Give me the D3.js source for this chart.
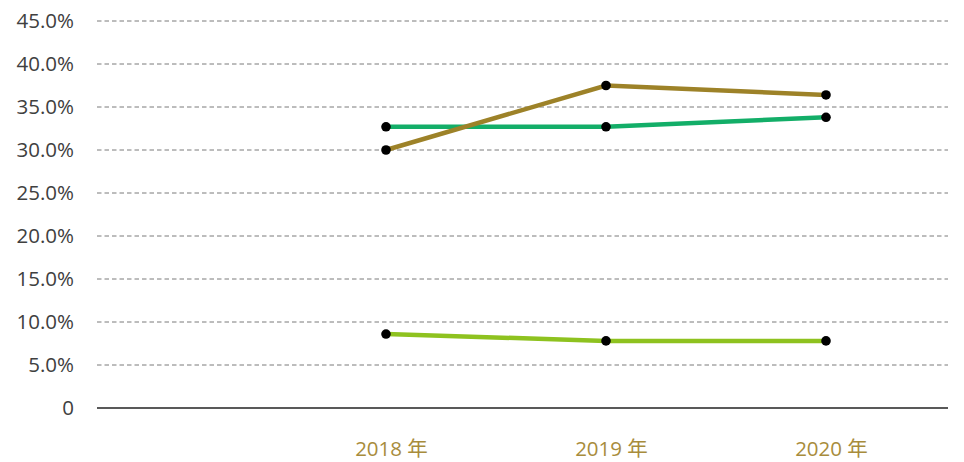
<!DOCTYPE html>
<html><head><meta charset="utf-8">
<script src="https://cdn.jsdelivr.net/npm/d3@7/dist/d3.min.js"></script>
<style>body{margin:0;background:#fff}svg{display:block}</style>
</head><body>
<svg id="c" width="964" height="462"></svg>
<script>
const categories = ["", "2018 年", "2019 年", "2020 年"];
const years = ["2018 年", "2019 年", "2020 年"];
const seriesGold = [30.0, 37.5, 36.4];
const seriesTeal = [32.7, 32.7, 33.8];
const seriesLime = [8.6, 7.8, 7.8];
const yTicks = [0, 5, 10, 15, 20, 25, 30, 35, 40, 45];
const colors = ["#9d8228", "#13ae68", "#8ec21f"];

(function () {
const svg = d3.select("#c");
const mLeft = 97, mRight = 948, mTop = 21, mBottom = 408;
const x = d3.scalePoint().domain(categories).range([166, 826]);
const y = d3.scaleLinear().domain([0, 45]).range([mBottom, mTop]);

// gridlines
svg.append("g").selectAll("line").data(yTicks.filter(d => d > 0)).join("line")
  .attr("x1", mLeft).attr("x2", mRight)
  .attr("y1", d => y(d)).attr("y2", d => y(d))
  .attr("stroke", "#7a7a7a").attr("stroke-width", 1).attr("stroke-dasharray", "4.5,3");

// y axis labels
const yAxis = d3.axisLeft(y).tickValues(yTicks).tickSize(0).tickPadding(0)
  .tickFormat(d => d === 0 ? "0" : d.toFixed(1) + "%");
const ga = svg.append("g").attr("transform", "translate(74,0)").call(yAxis);
ga.select(".domain").remove();
ga.selectAll("text").attr("font-family", "'Open Sans', sans-serif").attr("font-size", 20.5)
  .attr("fill", "#404040").attr("dy", "0.34em");

// x axis
const xAxis = d3.axisBottom(x).tickValues(years).tickSize(0).tickPadding(33);
const gx = svg.append("g").attr("transform", `translate(0,${mBottom})`).call(xAxis);
gx.select(".domain").remove();
gx.selectAll("text").attr("font-family", "'Open Sans', 'Noto Sans CJK SC', sans-serif").attr("font-size", 20.5)
  .attr("fill", "#a88c3c").attr("dx", "5");
svg.append("line").attr("x1", mLeft).attr("x2", mRight).attr("y1", mBottom).attr("y2", mBottom)
  .attr("stroke", "#222").attr("stroke-width", 1.5);

const series = [seriesTeal, seriesLime, seriesGold];
const scol = [colors[1], colors[2], colors[0]];
const line = d3.line().x((d, i) => x(years[i])).y(d => y(d));
series.forEach((s, k) => {
  svg.append("path").datum(s).attr("d", line).attr("fill", "none")
    .attr("stroke", scol[k]).attr("stroke-width", 4.5);
});
series.forEach((s, k) => {
  svg.append("g").selectAll("circle").data(s).join("circle")
    .attr("cx", (d, i) => x(years[i])).attr("cy", d => y(d)).attr("r", 4.8).attr("fill", "#000");
});
})();
</script>
</body></html>
